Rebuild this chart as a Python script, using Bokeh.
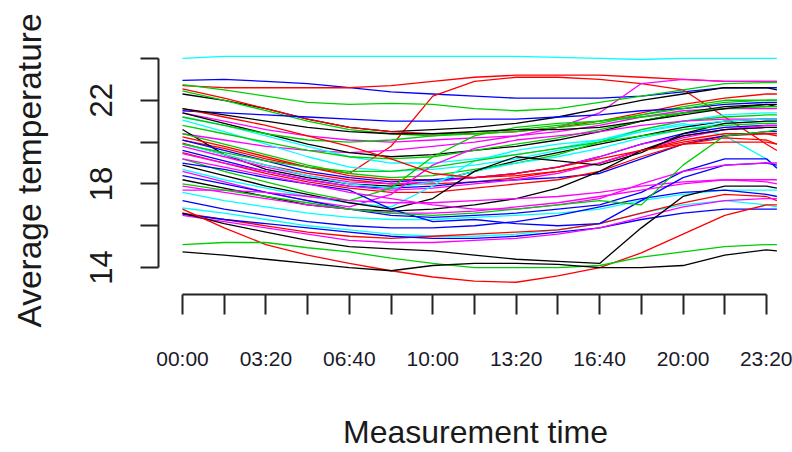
from bokeh.plotting import figure
from bokeh.models import FixedTicker, Range1d
from bokeh.embed import file_html
from bokeh.resources import INLINE

# measurement times in minutes after midnight
minutes = [0, 100, 200, 300, 400, 500, 600, 700, 800, 900, 1000, 1100, 1200, 1300, 1400, 1425]

# x tick marks (every 100 min) and labelled ticks
x_tick_minutes = [0, 100, 200, 300, 400, 500, 600, 700, 800, 900, 1000, 1100, 1200, 1300, 1400]
x_label_minutes = [0, 200, 400, 600, 800, 1000, 1200, 1400]
x_label_text = ["00:00", "03:20", "06:40", "10:00", "13:20", "16:40", "20:00", "23:20"]

y_ticks = [14, 16, 18, 20, 22, 24]
y_label_values = [14, 18, 22]
y_label_text = ["14", "18", "22"]

BLACK, RED, GREEN, BLUE, CYAN, MAGENTA = "#000000", "#FF0000", "#00CD00", "#0000FF", "#00FFFF", "#FF00FF"

s01 = [24.0, 24.1, 24.1, 24.1, 24.1, 24.1, 24.1, 24.1, 24.1, 24.05, 24.0, 23.95, 24.0, 24.0, 24.0, 24.0]
s02 = [22.95, 23.0, 22.9, 22.8, 22.6, 22.4, 22.3, 22.2, 22.1, 22.1, 22.1, 22.2, 22.4, 22.6, 22.6, 22.6]
s03 = [22.7, 22.6, 22.6, 22.6, 22.6, 22.7, 22.9, 23.1, 23.2, 23.2, 23.2, 23.1, 23.0, 22.9, 22.9, 22.9]
s04 = [20.1, 19.7, 19.2, 18.8, 18.5, 19.8, 22.2, 22.9, 23.1, 23.1, 23.0, 22.8, 22.5, 21.2, 19.9, 19.6]
s05 = [20.4, 20.1, 19.8, 19.6, 19.5, 19.6, 19.8, 20.0, 20.3, 20.7, 21.4, 22.8, 23.0, 22.9, 22.9, 22.9]
s06 = [22.75, 22.5, 22.2, 21.9, 21.8, 21.85, 21.8, 21.6, 21.5, 21.6, 21.9, 22.2, 22.5, 22.8, 22.85, 22.85]
s07 = [22.3, 22.0, 21.6, 21.1, 20.7, 20.5, 20.6, 20.7, 20.9, 21.2, 21.6, 22.0, 22.3, 22.6, 22.6, 22.5]
s08 = [22.55, 22.1, 21.6, 21.1, 20.7, 20.5, 20.4, 20.4, 20.5, 20.7, 21.0, 21.4, 21.8, 22.1, 22.3, 22.3]
s09 = [22.45, 22.0, 21.5, 21.0, 20.6, 20.4, 20.3, 20.4, 20.5, 20.7, 20.9, 21.3, 21.7, 22.0, 22.0, 22.0]
s10 = [21.5, 21.4, 21.3, 21.2, 21.1, 21.0, 21.0, 21.1, 21.1, 21.2, 21.3, 21.5, 21.6, 21.8, 21.9, 21.9]
s11 = [21.4, 21.0, 20.6, 20.3, 20.1, 20.0, 20.1, 20.2, 20.3, 20.5, 20.8, 21.2, 21.5, 21.6, 21.6, 21.6]
s12 = [21.4, 20.9, 20.4, 19.9, 19.5, 19.3, 19.4, 19.6, 19.8, 20.1, 20.5, 21.0, 21.4, 21.7, 21.8, 21.7]
s13 = [21.2, 20.8, 20.3, 19.8, 19.3, 19.0, 19.0, 19.2, 19.4, 19.7, 20.1, 20.6, 21.0, 21.3, 21.4, 21.4]
s14 = [21.05, 20.5, 19.9, 19.3, 18.8, 18.6, 18.7, 18.9, 19.2, 19.6, 20.0, 20.5, 20.9, 20.3, 19.2, 18.8]
s15 = [20.8, 20.4, 20.0, 19.6, 19.3, 19.2, 19.3, 19.6, 19.9, 20.2, 20.6, 21.0, 21.4, 21.6, 21.7, 21.7]
s16 = [20.6, 19.4, 18.7, 18.3, 18.0, 17.9, 18.1, 18.6, 19.1, 19.5, 19.9, 20.3, 20.7, 21.0, 21.1, 21.1]
s17 = [20.4, 19.9, 19.4, 18.9, 18.5, 18.3, 18.4, 18.7, 19.0, 19.4, 20.0, 20.6, 21.0, 21.2, 21.3, 21.3]
s18 = [20.25, 19.8, 19.3, 18.8, 18.4, 18.2, 18.2, 18.3, 18.4, 18.6, 19.0, 19.6, 20.0, 20.3, 20.4, 20.4]
s19 = [20.1, 19.6, 19.1, 18.6, 18.3, 18.1, 18.2, 18.3, 18.5, 18.8, 19.3, 19.9, 20.4, 20.7, 20.8, 20.8]
s20 = [19.95, 19.4, 18.9, 18.5, 18.2, 18.0, 18.0, 18.1, 18.3, 18.6, 19.0, 19.6, 20.1, 20.4, 20.4, 20.3]
s21 = [19.8, 19.3, 18.8, 18.4, 18.1, 18.0, 18.1, 18.3, 18.5, 18.8, 19.3, 19.9, 20.3, 20.6, 20.7, 20.7]
s22 = [19.6, 19.1, 18.6, 18.2, 17.9, 17.8, 17.9, 18.1, 18.2, 18.3, 18.5, 19.2, 19.9, 20.3, 20.5, 20.5]
s23 = [19.5, 19.0, 18.5, 18.1, 17.8, 17.6, 17.6, 17.8, 18.0, 18.2, 18.6, 19.3, 19.9, 20.2, 20.1, 19.9]
s24 = [19.45, 19.0, 18.6, 18.2, 17.9, 17.7, 17.8, 18.0, 18.2, 18.5, 19.0, 19.6, 20.2, 20.6, 20.8, 20.8]
s25 = [19.9, 19.4, 18.9, 18.4, 18.0, 17.8, 18.1, 18.6, 19.0, 19.3, 19.7, 20.2, 20.6, 20.9, 21.0, 21.0]
s26 = [19.2, 18.6, 18.1, 17.6, 17.2, 17.8, 19.3, 20.3, 20.7, 20.9, 21.0, 21.2, 21.4, 21.6, 21.7, 21.7]
s27 = [18.6, 18.1, 17.6, 17.2, 16.9, 17.5, 18.9, 19.7, 20.1, 20.3, 20.5, 20.8, 21.0, 21.1, 21.1, 21.1]
s28 = [18.7, 18.2, 17.8, 17.4, 17.1, 16.9, 17.9, 19.1, 19.6, 19.9, 20.1, 20.5, 20.8, 21.0, 21.1, 21.1]
s29 = [18.9, 18.4, 17.9, 17.5, 17.1, 16.8, 17.3, 18.6, 19.3, 19.1, 18.9, 19.5, 20.4, 20.9, 21.0, 21.0]
s30 = [19.9, 19.5, 19.1, 18.8, 18.6, 18.6, 18.8, 19.1, 19.4, 19.7, 20.0, 20.3, 20.6, 20.8, 20.9, 20.9]
s31 = [18.4, 18.0, 17.6, 17.2, 16.8, 16.5, 16.4, 16.5, 16.6, 16.8, 17.0, 17.6, 18.6, 19.2, 19.2, 18.75]
s32 = [18.2, 17.8, 17.4, 17.0, 16.8, 16.7, 16.8, 17.0, 17.3, 17.8, 18.6, 19.6, 20.3, 20.6, 20.7, 20.7]
s33 = [17.9, 17.6, 17.3, 17.0, 16.8, 16.6, 16.6, 16.7, 16.9, 17.1, 17.4, 17.7, 18.0, 18.2, 18.1, 18.0]
s34 = [17.7, 17.7, 17.6, 17.4, 17.2, 17.1, 17.1, 17.2, 17.3, 17.4, 17.6, 17.9, 18.1, 18.2, 18.2, 18.2]
s35 = [17.6, 17.2, 16.9, 16.6, 16.4, 16.3, 16.3, 16.4, 16.5, 16.6, 16.8, 17.2, 17.5, 17.7, 17.7, 17.7]
s36 = [17.2, 16.8, 16.5, 16.2, 16.0, 15.9, 15.9, 16.0, 16.2, 16.5, 16.9, 17.3, 17.6, 17.7, 17.5, 17.4]
s37 = [16.85, 16.6, 16.3, 16.0, 15.8, 15.6, 15.5, 15.5, 15.6, 15.8, 16.1, 16.6, 17.0, 17.2, 17.0, 16.9]
s38 = [16.6, 16.3, 16.0, 15.7, 15.5, 15.4, 15.5, 15.6, 15.7, 15.8, 16.1, 16.6, 17.1, 17.5, 17.4, 17.2]
s39 = [16.55, 16.3, 16.1, 15.9, 15.7, 15.5, 15.4, 15.4, 15.5, 15.7, 15.9, 16.3, 16.6, 16.8, 16.8, 16.8]
s40 = [16.5, 16.2, 15.9, 15.6, 15.3, 15.2, 15.2, 15.3, 15.4, 15.6, 15.9, 16.4, 16.9, 17.2, 17.3, 17.3]
s41 = [16.6, 16.1, 15.7, 15.3, 15.0, 14.9, 14.8, 14.6, 14.4, 14.3, 14.2, 15.9, 17.4, 17.9, 17.9, 17.8]
s42 = [16.8, 15.9, 15.1, 14.6, 14.2, 13.85, 13.55, 13.35, 13.3, 13.6, 14.0, 14.7, 15.6, 16.5, 17.0, 17.0]
s43 = [15.1, 15.2, 15.2, 14.95, 14.75, 14.45, 14.2, 14.0, 14.0, 14.0, 14.1, 14.5, 14.75, 15.0, 15.1, 15.1]
s44 = [14.75, 14.6, 14.4, 14.2, 14.0, 13.85, 14.1, 14.2, 14.2, 14.15, 14.0, 14.0, 14.1, 14.6, 14.85, 14.8]
s45 = [21.2, 20.8, 20.4, 20.1, 20.0, 20.1, 20.3, 20.5, 20.6, 20.8, 21.0, 21.3, 21.6, 21.9, 22.0, 22.0]
s46 = [21.6, 21.2, 20.8, 20.3, 19.8, 19.2, 18.5, 18.3, 18.5, 18.8, 19.2, 19.6, 19.9, 20.0, 20.0, 19.9]
s47 = [21.6, 21.3, 21.0, 20.7, 20.5, 20.4, 20.4, 20.5, 20.6, 20.6, 20.7, 21.0, 21.3, 21.6, 21.8, 21.8]
s48 = [19.0, 18.7, 18.3, 18.0, 17.7, 16.8, 16.2, 16.3, 16.1, 16.0, 16.1, 17.2, 18.3, 18.9, 19.0, 18.9]
s49 = [19.2, 18.8, 18.4, 18.0, 17.6, 17.3, 17.0, 16.8, 16.8, 17.0, 17.3, 18.0, 18.6, 18.9, 19.0, 19.0]
s50 = [18.0, 17.7, 17.4, 17.1, 16.8, 16.6, 16.5, 16.6, 16.8, 17.0, 17.2, 17.0, 18.9, 20.3, 20.5, 20.6]

series = [s01, s02, s03, s04, s05, s06, s07, s08, s09, s10,
          s11, s12, s13, s14, s15, s16, s17, s18, s19, s20,
          s21, s22, s23, s24, s25, s26, s27, s28, s29, s30,
          s31, s32, s33, s34, s35, s36, s37, s38, s39, s40,
          s41, s42, s43, s44, s45, s46, s47, s48, s49, s50]
colors = [CYAN, BLUE, RED, RED, MAGENTA, GREEN, BLACK, RED, GREEN, BLUE,
          MAGENTA, BLACK, CYAN, CYAN, GREEN, BLACK, GREEN, RED, BLUE, RED,
          MAGENTA, BLUE, RED, MAGENTA, CYAN, GREEN, MAGENTA, CYAN, BLACK, GREEN,
          BLUE, BLACK, MAGENTA, MAGENTA, CYAN, BLUE, CYAN, RED, BLUE, MAGENTA,
          BLACK, RED, GREEN, BLACK, GREEN, RED, BLACK, BLUE, MAGENTA, GREEN]

FONT = "Liberation Sans"

p = figure(width=792, height=452, output_backend="svg", toolbar_location=None,
           x_range=Range1d(-57.5, 1462.4), y_range=Range1d(12.714, 24.571),
           min_border_left=158, min_border_right=0, min_border_top=46, min_border_bottom=157)
p.outline_line_color = None
p.grid.visible = False
p.background_fill_color = "white"
p.border_fill_color = "white"

for vals, c in zip(series, colors):
    p.line(minutes, vals, line_color=c, line_width=1.3)

xa = p.xaxis[0]
xa.ticker = FixedTicker(ticks=x_tick_minutes)
xa.bounds = (x_tick_minutes[0], x_tick_minutes[-1])
overrides = {m: "" for m in x_tick_minutes}
for m, t in zip(x_label_minutes, x_label_text):
    overrides[m] = t
xa.major_label_overrides = overrides
xa.major_tick_out = 20
xa.major_tick_in = 0
xa.minor_tick_out = 0
xa.minor_tick_in = 0
xa.axis_line_width = 2
xa.major_tick_line_width = 2
xa.axis_line_color = "#222222"
xa.major_tick_line_color = "#222222"
xa.major_label_text_font = FONT
xa.major_label_text_font_size = "21px"
xa.major_label_text_color = "#1a1a2a"
xa.major_label_standoff = 32
xa.axis_label = "Measurement time"
xa.axis_label_text_font = FONT
xa.axis_label_text_font_size = "32px"
xa.axis_label_text_font_style = "normal"
xa.axis_label_text_color = "#1a1a1a"
xa.axis_label_standoff = 41

ya = p.yaxis[0]
ya.ticker = FixedTicker(ticks=y_ticks)
ya.bounds = (y_ticks[0], y_ticks[-1])
yo = {v: "" for v in y_ticks}
for v, t in zip(y_label_values, y_label_text):
    yo[v] = t
ya.major_label_overrides = yo
ya.major_label_orientation = "vertical"
ya.major_tick_out = 18
ya.major_tick_in = 0
ya.minor_tick_out = 0
ya.minor_tick_in = 0
ya.axis_line_width = 2
ya.major_tick_line_width = 2
ya.axis_line_color = "#222222"
ya.major_tick_line_color = "#222222"
ya.major_label_text_font = FONT
ya.major_label_text_font_size = "31px"
ya.major_label_text_color = "#1a1a1a"
ya.major_label_standoff = 28
ya.axis_label = "Average temperature"
ya.axis_label_text_font = FONT
ya.axis_label_text_font_size = "33.5px"
ya.axis_label_text_font_style = "normal"
ya.axis_label_text_color = "#1a1a1a"
ya.axis_label_standoff = 40

with open("out.html", "w") as f:
    f.write(file_html(p, INLINE))
